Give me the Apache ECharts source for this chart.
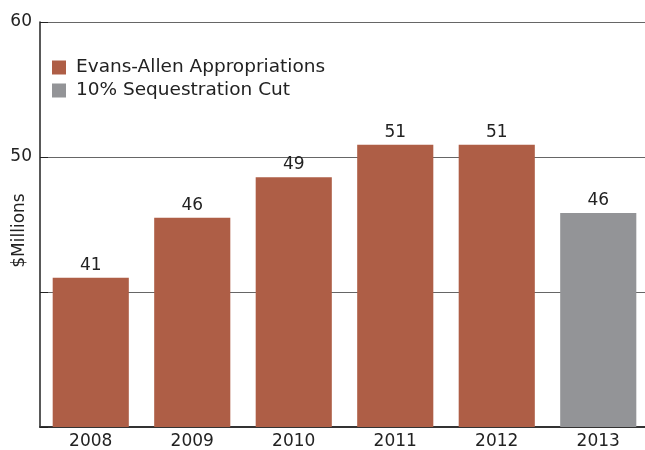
<!DOCTYPE html>
<html><head><meta charset="utf-8">
<script src="https://cdn.jsdelivr.net/npm/echarts@6/dist/echarts.min.js"></script>
<style>html,body{margin:0;padding:0;background:#fff}#c{width:645px;height:450px}</style>
</head><body><div id="c"></div>
<script>
const categories = ['2008','2009','2010','2011','2012','2013'];
const appropriations = [41.05, 45.5, 48.5, 50.9, 50.9, '-'];
const sequestration = ['-', '-', '-', '-', '-', 45.85];
const yTickLabels = {60:'60', 50:'50'};
const FONT = 'DejaVu Sans';
const chart = echarts.init(document.getElementById('c'));
const lbl = {show:true, position:'top', color:'#222', fontSize:17, fontFamily:FONT, distance:4,
  formatter: p => Math.round(p.value)};
chart.setOption({
  animation:false,
  textStyle:{fontFamily:FONT},
  grid:{left:40, right:-4, top:22, bottom:23, containLabel:false, outerBoundsMode:'none'},
  legend:{show:true, orient:'vertical', left:47, top:53, itemWidth:14, itemHeight:14, itemGap:4,
    icon:'rect', textStyle:{fontSize:18.5, color:'#222', fontFamily:FONT, padding:[0,0,0,5]},
    data:['Evans-Allen Appropriations','10% Sequestration Cut']},
  xAxis:{type:'category', data:categories,
    axisLine:{lineStyle:{color:'#333', width:2}}, axisTick:{show:false},
    axisLabel:{color:'#222', fontSize:17, fontFamily:FONT, margin:6}},
  yAxis:{type:'value', min:30, max:60, interval:10,
    name:'$Millions', nameLocation:'middle', nameGap:12, nameRotate:90, nameMoveOverlap:false,
    nameTextStyle:{fontSize:17, color:'#222', fontFamily:FONT, padding:[0,12,0,0]},
    axisLine:{show:true, lineStyle:{color:'#222', width:1.5}},
    axisTick:{show:true, inside:true, length:8, lineStyle:{color:'#222'}},
    splitLine:{lineStyle:{color:'#666', width:1}},
    axisLabel:{color:'#222', fontSize:17, fontFamily:FONT, margin:8,
      formatter: v => yTickLabels[v] || ''}},
  series:[
    {name:'Evans-Allen Appropriations', type:'bar', stack:'s', data:appropriations,
     barCategoryGap:'25%', itemStyle:{color:'#AE5E46'}, label:lbl},
    {name:'10% Sequestration Cut', type:'bar', stack:'s', data:sequestration,
     itemStyle:{color:'#939497'}, label:lbl}
  ]
});
</script></body></html>
